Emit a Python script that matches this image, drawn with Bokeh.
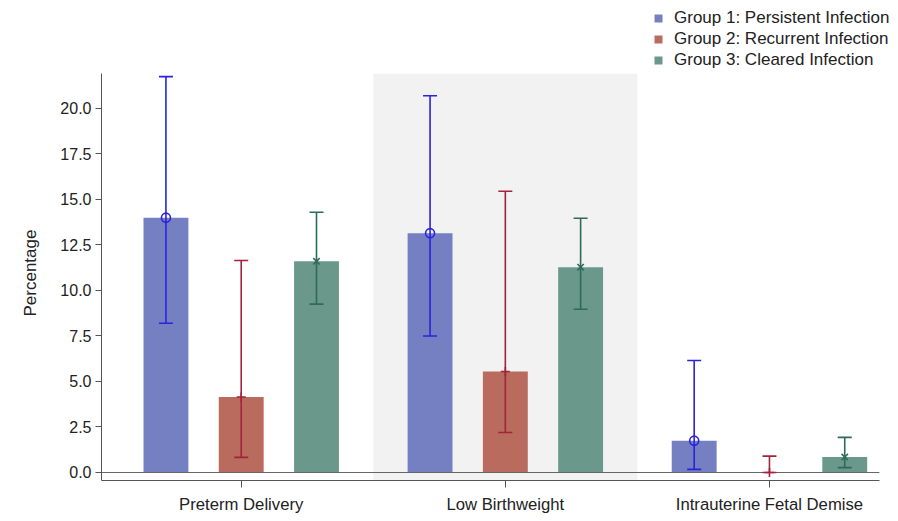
from bokeh.plotting import figure
from bokeh.models import (ColumnDataSource, Whisker, TeeHead, Legend, LegendItem, Title,
                          BoxAnnotation, FixedTicker, Range1d, NumeralTickFormatter)
from bokeh.embed import file_html
from bokeh.resources import INLINE

outcomes = ["Preterm Delivery", "Low Birthweight", "Intrauterine Fetal Demise"]
groups = ["Group 1: Persistent Infection", "Group 2: Recurrent Infection", "Group 3: Cleared Infection"]
g1_pct = [14.0, 13.15, 1.75]
g1_lo = [8.2, 7.5, 0.17]
g1_hi = [21.75, 20.7, 6.15]
g2_pct = [4.15, 5.55, 0.0]
g2_lo = [0.83, 2.2, 0.0]
g2_hi = [11.65, 15.45, 0.9]
g3_pct = [11.6, 11.28, 0.85]
g3_lo = [9.25, 8.97, 0.27]
g3_hi = [14.3, 13.97, 1.93]
y_ticks = [0.0, 2.5, 5.0, 7.5, 10.0, 12.5, 15.0, 17.5, 20.0]
y_label = "Percentage"

FONT = "Liberation Sans"
bar_colors = ["#7480c2", "#b96b5e", "#6a998c"]
line_colors = ["#2b22dc", "#a2243c", "#2f6a58"]
markers = ["circle", "cross", "x"]
offsets = [-0.285, 0.0, 0.285]

X0, X1 = 0.471, 3.416      # visible axis extent
Y0, Y1 = -0.44, 21.9

p = figure(width=896, height=516, output_backend="svg", toolbar_location=None,
           x_range=Range1d(X0, 3.481), y_range=Range1d(Y0, 25.93),
           min_border_left=100, min_border_right=0, min_border_top=0, min_border_bottom=33)
p.outline_line_color = None
p.xgrid.visible = False
p.ygrid.visible = False
p.background_fill_color = "white"

p.add_layout(BoxAnnotation(left=1.5, right=2.5, top=Y1, fill_color="#f2f2f2", fill_alpha=1.0,
                           line_color=None, level="underlay"))

series = [(g1_pct, g1_lo, g1_hi), (g2_pct, g2_lo, g2_hi), (g3_pct, g3_lo, g3_hi)]
items = []
for gi, (pct, lo, hi) in enumerate(series):
    xs = [i + 1 + offsets[gi] for i in range(len(outcomes))]
    src = ColumnDataSource(dict(x=xs, top=pct, lo=lo, hi=hi))
    r = p.vbar(x="x", top="top", bottom=0, width=0.17, source=src,
               fill_color=bar_colors[gi], line_color=None)
    items.append(LegendItem(label=groups[gi], renderers=[r]))

p.segment(x0=[X0], x1=[X1], y0=[0], y1=[0], line_color="#666666", line_width=1.2)

for gi, (pct, lo, hi) in enumerate(series):
    xs = [i + 1 + offsets[gi] for i in range(len(outcomes))]
    src = ColumnDataSource(dict(x=xs, top=pct, lo=lo, hi=hi))
    w = Whisker(base="x", upper="hi", lower="lo", source=src, dimension="height",
                line_color=line_colors[gi], line_width=1.6, level="overlay",
                upper_head=TeeHead(size=14, line_color=line_colors[gi], line_width=1.6),
                lower_head=TeeHead(size=14, line_color=line_colors[gi], line_width=1.6))
    p.add_layout(w)
    p.scatter(x="x", y="top", source=src, marker=markers[gi], size=9,
              fill_color=None, line_color=line_colors[gi], line_width=1.6)

p.yaxis.ticker = FixedTicker(ticks=y_ticks)
p.yaxis.formatter = NumeralTickFormatter(format="0.0")
p.yaxis.bounds = (Y0, Y1)
p.yaxis.major_tick_out = 6
p.yaxis.major_tick_in = 0
p.yaxis.minor_tick_out = 0
p.yaxis.minor_tick_in = 0
p.yaxis.major_label_standoff = 4
p.yaxis.major_label_text_font_size = "16px"

p.xaxis.ticker = FixedTicker(ticks=[1, 2, 3])
p.xaxis.major_label_overrides = {i + 1: name for i, name in enumerate(outcomes)}
p.xaxis.bounds = (X0, X1)
p.xaxis.major_tick_out = 7
p.xaxis.major_tick_in = 0
p.xaxis.minor_tick_out = 0
p.xaxis.minor_tick_in = 0
p.xaxis.major_label_standoff = 7
p.xaxis.major_label_text_font_size = "16.7px"

for ax in (p.xaxis, p.yaxis):
    ax.axis_line_color = "#555555"
    ax.major_tick_line_color = "#555555"
    ax.major_label_text_font = FONT
    ax.major_label_text_color = "#222222"

ytitle = Title(text=y_label, align="left", offset=164, standoff=36,
               text_font=FONT, text_font_size="17px", text_font_style="normal",
               text_color="#222222")
p.add_layout(ytitle, "left")

legend = Legend(items=items, location=(552, 410), orientation="vertical",
                glyph_width=10, glyph_height=10, label_standoff=11, spacing=1,
                label_height=18, padding=0, margin=0, border_line_color=None,
                background_fill_alpha=0,
                label_text_font=FONT, label_text_font_size="17px", label_text_color="#222222")
p.add_layout(legend, "center")

open("out.html", "w").write(file_html(p, INLINE))
